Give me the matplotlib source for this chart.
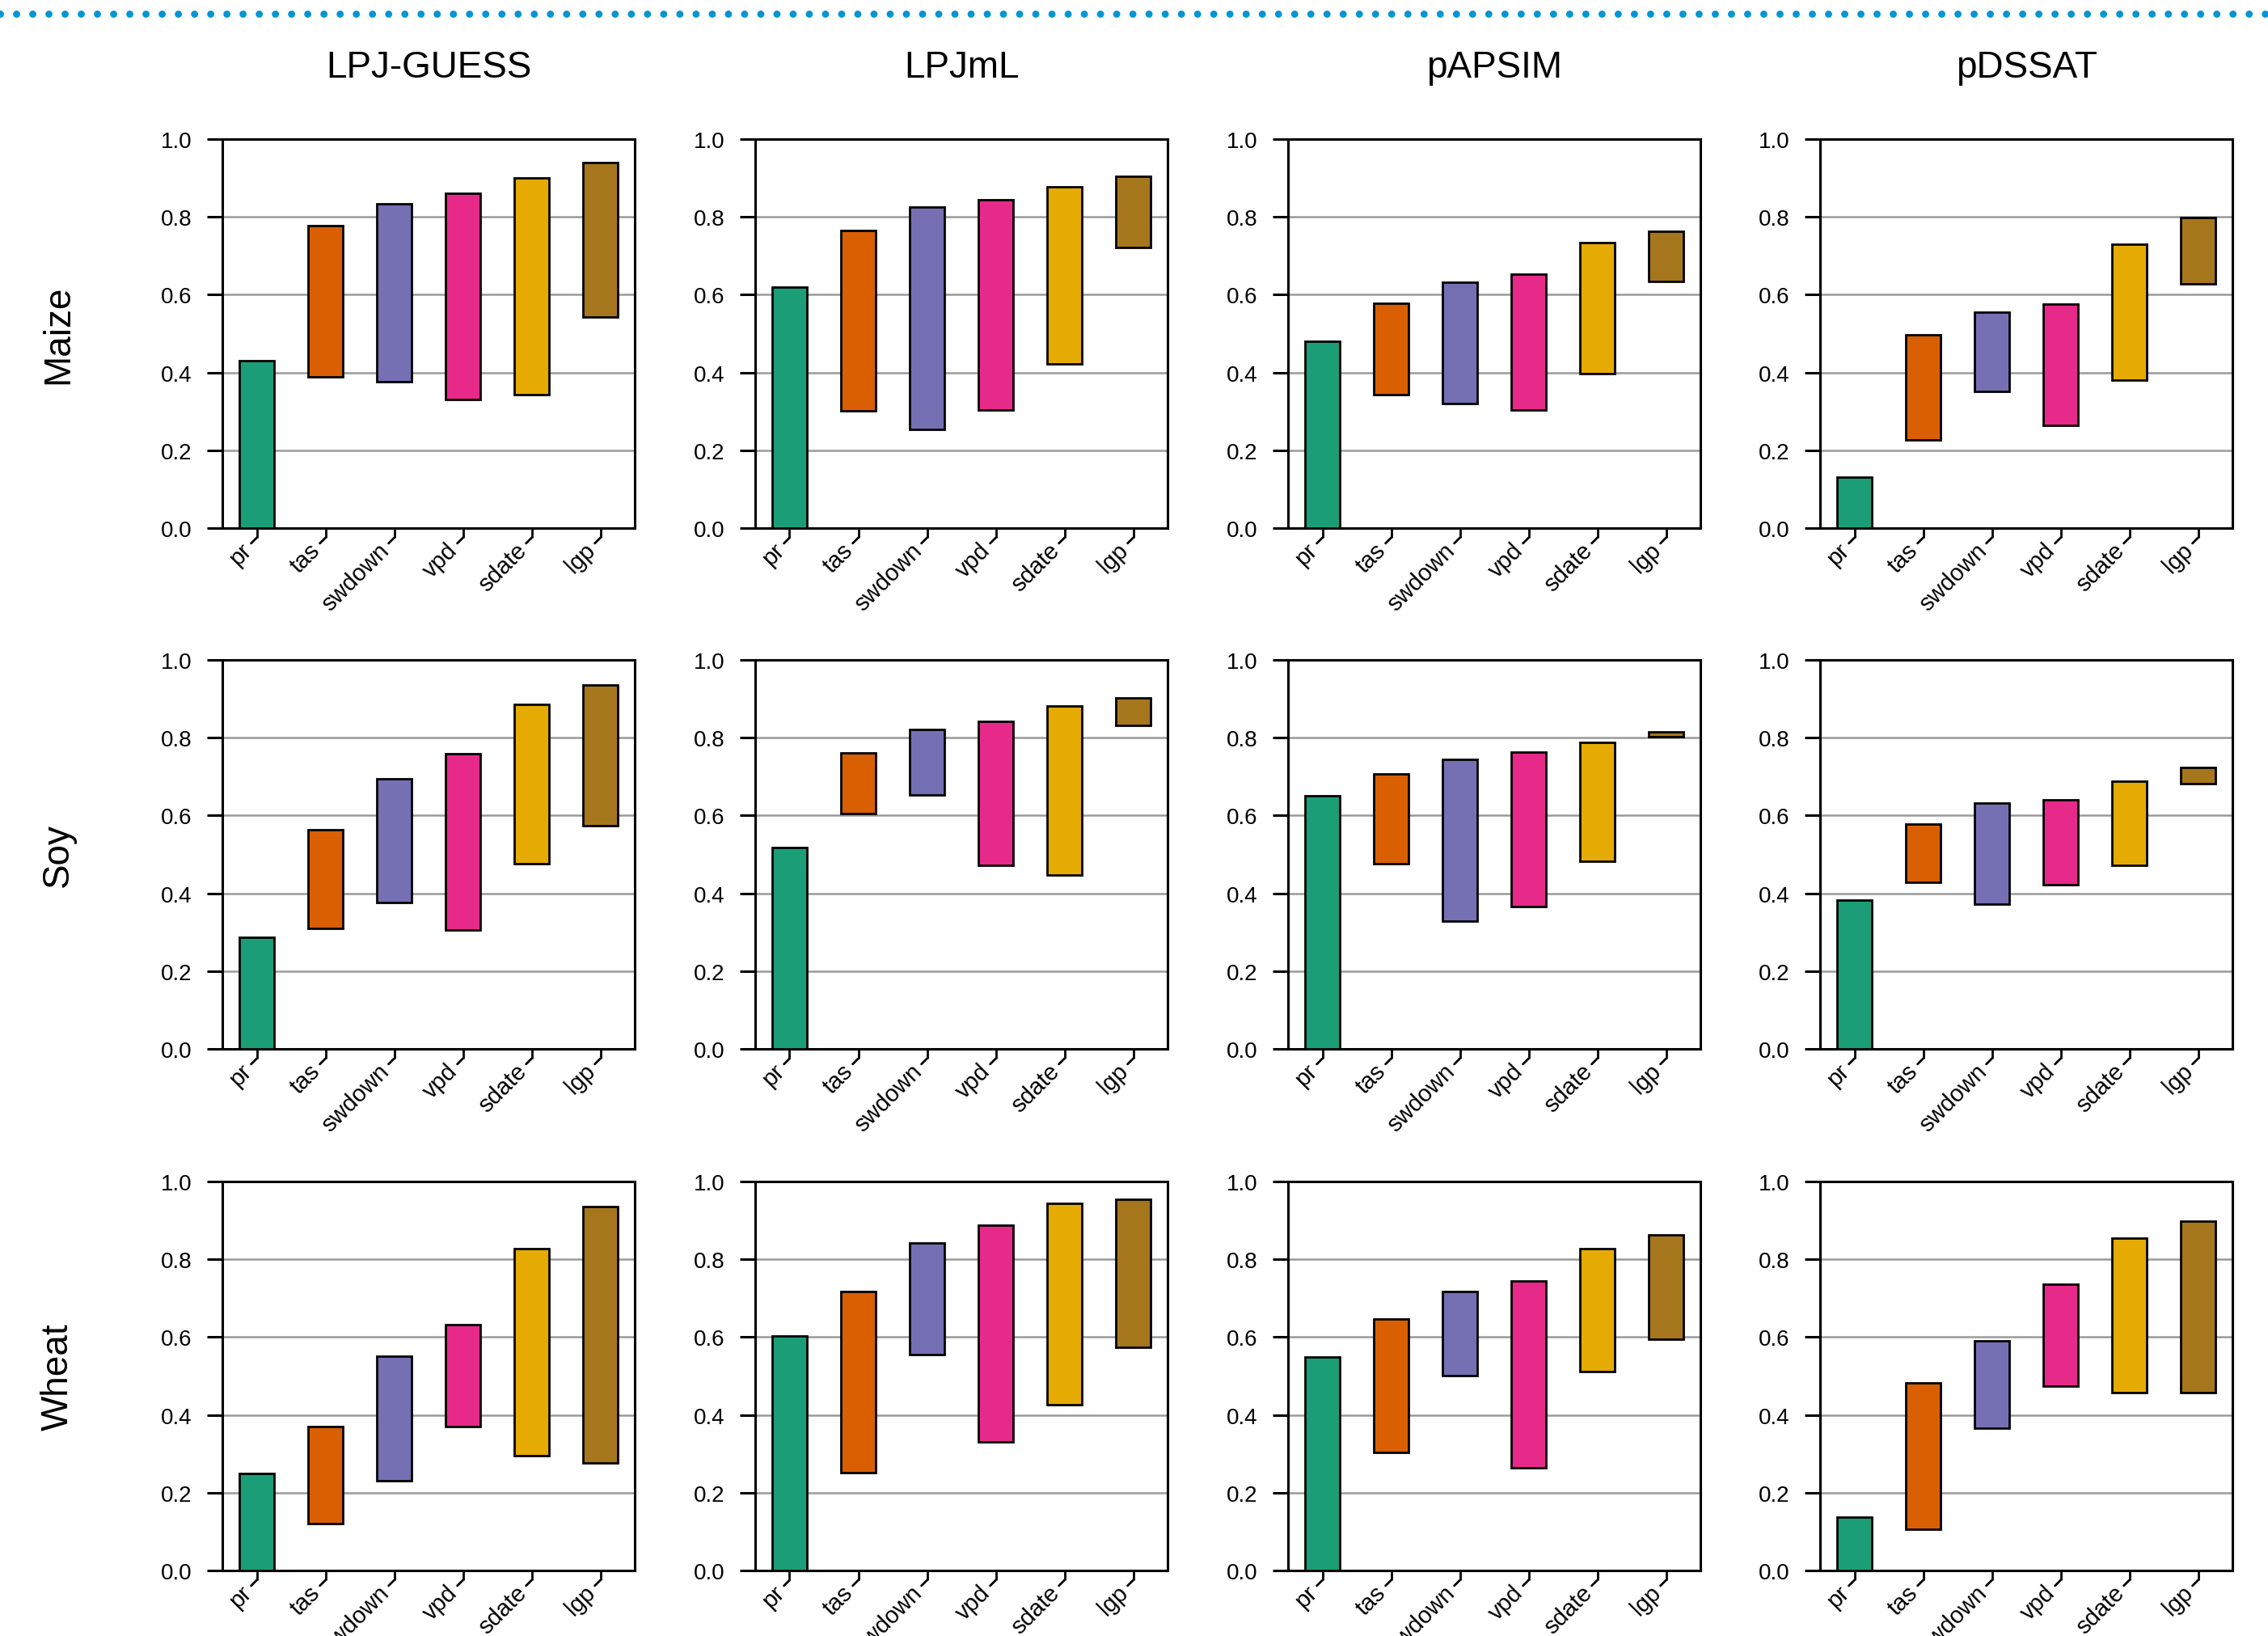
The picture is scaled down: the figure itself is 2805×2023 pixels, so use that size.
import numpy as np
import matplotlib.pyplot as plt
from matplotlib.lines import Line2D
from matplotlib.transforms import offset_copy

plt.rcParams['font.family'] = ['Liberation Sans', 'DejaVu Sans']

models = ['LPJ-GUESS', 'LPJmL', 'pAPSIM', 'pDSSAT']
crops = ['Maize', 'Soy', 'Wheat']
drivers = ['pr', 'tas', 'swdown', 'vpd', 'sdate', 'lgp']
colors = ['#1B9E77', '#D95F02', '#7570B3', '#E7298A', '#E6AB02', '#A6761D']

# lower and upper end of each bar, one list per model (pr always starts at 0)
maize_low = [
    [0.0, 0.388, 0.376, 0.330, 0.344, 0.542],
    [0.0, 0.302, 0.254, 0.304, 0.422, 0.722],
    [0.0, 0.344, 0.320, 0.304, 0.397, 0.634],
    [0.0, 0.226, 0.352, 0.264, 0.381, 0.627],
]
maize_high = [
    [0.431, 0.778, 0.834, 0.860, 0.901, 0.940],
    [0.619, 0.765, 0.826, 0.844, 0.877, 0.904],
    [0.480, 0.577, 0.632, 0.652, 0.733, 0.763],
    [0.131, 0.496, 0.556, 0.575, 0.729, 0.799],
]
soy_low = [
    [0.0, 0.310, 0.376, 0.306, 0.476, 0.573],
    [0.0, 0.605, 0.653, 0.472, 0.446, 0.832],
    [0.0, 0.477, 0.329, 0.366, 0.482, 0.802],
    [0.0, 0.428, 0.372, 0.422, 0.471, 0.681],
]
soy_high = [
    [0.286, 0.563, 0.694, 0.758, 0.885, 0.935],
    [0.517, 0.761, 0.822, 0.843, 0.881, 0.902],
    [0.651, 0.707, 0.745, 0.764, 0.788, 0.814],
    [0.382, 0.578, 0.633, 0.641, 0.688, 0.724],
]
wheat_low = [
    [0.0, 0.120, 0.231, 0.370, 0.296, 0.277],
    [0.0, 0.251, 0.556, 0.330, 0.426, 0.574],
    [0.0, 0.304, 0.502, 0.265, 0.512, 0.594],
    [0.0, 0.105, 0.365, 0.475, 0.457, 0.458],
]
wheat_high = [
    [0.249, 0.371, 0.550, 0.631, 0.828, 0.935],
    [0.603, 0.718, 0.842, 0.888, 0.943, 0.955],
    [0.549, 0.647, 0.717, 0.745, 0.827, 0.862],
    [0.138, 0.482, 0.591, 0.735, 0.854, 0.899],
]

lows = [maize_low, soy_low, wheat_low]
highs = [maize_high, soy_high, wheat_high]

W, H = 2805, 2024
DPI = 200
fig = plt.figure(figsize=(W / DPI, H / DPI), dpi=DPI)

col_left = [275, 934, 1593, 2251]
row_top = [173, 817, 1462]
pw, ph = 510, 481

tick_len = 4.3   # pt
hook = 2.5       # pt

x = np.arange(len(drivers))

for r, crop in enumerate(crops):
    for c, model in enumerate(models):
        ax = fig.add_axes([col_left[c] / W, 1 - (row_top[r] + ph) / H, pw / W, ph / H])
        lo = np.array(lows[r][c])
        hi = np.array(highs[r][c])
        ax.bar(x, hi - lo, bottom=lo, width=0.5, color=colors,
               edgecolor='black', linewidth=1.0, zorder=3)
        ax.set_xlim(-0.5, 5.5)
        ax.set_ylim(0, 1)
        ax.set_yticks(np.arange(0, 1.01, 0.2))
        ax.set_yticklabels(['%.1f' % v for v in np.arange(0, 1.01, 0.2)])
        ax.grid(axis='y', color='#9a9a9a', linewidth=0.9)
        ax.set_axisbelow(True)
        for s in ax.spines.values():
            s.set_linewidth(1.1)
        ax.tick_params(axis='y', length=6.8, width=1.1, pad=6.8, labelsize=10)
        ax.set_xticks(x)
        ax.tick_params(axis='x', length=tick_len, width=1.0, labelbottom=False)

        # x labels hang off a small hooked tick, rotated 45 degrees
        base = ax.get_xaxis_transform()
        hook_start = offset_copy(base, fig=fig, y=-tick_len, units='points')
        lab_tr = offset_copy(base, fig=fig, x=-hook - 1.4, y=-tick_len - hook - 1.4,
                             units='points')
        for i, name in enumerate(drivers):
            ax.annotate('', xy=(i, 0), xycoords=hook_start,
                        xytext=(-hook, -hook), textcoords='offset points',
                        arrowprops=dict(arrowstyle='-', lw=1.0, color='black',
                                        shrinkA=0, shrinkB=0),
                        annotation_clip=False)
            ax.text(i, 0, name, transform=lab_tr, rotation=45, rotation_mode='anchor',
                    ha='right', va='center', fontsize=10.5, clip_on=False)

        if r == 0:
            fig.text((col_left[c] + pw / 2) / W, 1 - 84 / H, model,
                     ha='center', va='center', fontsize=16.5)
    fig.text(72 / W, 1 - (row_top[r] + ph / 2) / H, crop, rotation=90,
             ha='center', va='center', fontsize=16.5)

# dotted rule along the top edge
fig.add_artist(Line2D([0, 1], [1 - 18 / H] * 2, transform=fig.transFigure,
                      color='#0095D5', linewidth=3.2,
                      linestyle=(0, (0.001, 2.25)), dash_capstyle='round'))

fig.savefig('out.png', dpi=DPI)
